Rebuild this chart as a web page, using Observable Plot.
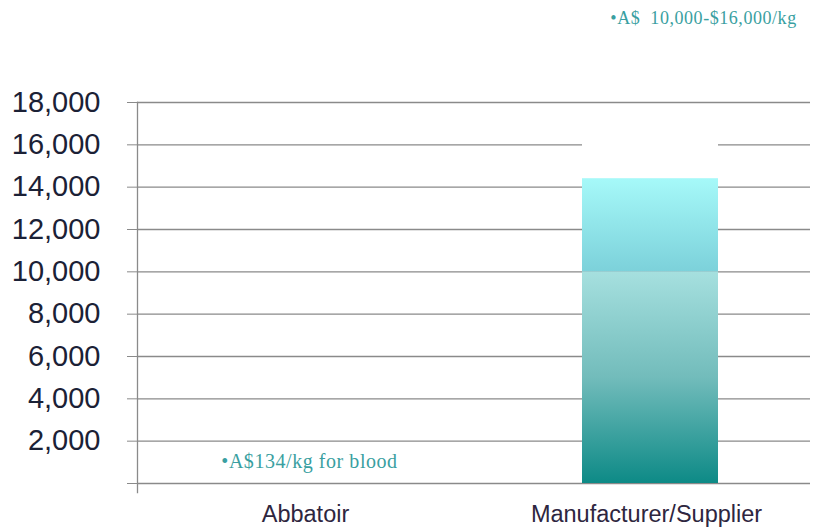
<!DOCTYPE html>
<html>
<head>
<meta charset="utf-8">
<script src="https://cdn.jsdelivr.net/npm/d3@7"></script>
<script src="https://cdn.jsdelivr.net/npm/@observablehq/plot@0.6"></script>
<style>
  body { margin: 0; background: #fff; }
  #chart svg { display: block; }
</style>
</head>
<body>
<div id="chart"></div>
<script>
// Categories and values
const categories = ["Abbatoir", "Manufacturer/Supplier"];
const barValues = [0, 14400];           // A$/kg (bar height as drawn)
const rangeLow = 10000;                 // start of quoted range
const rangeHigh = 16000;                // end of quoted range
const yTicks = [0, 2000, 4000, 6000, 8000, 10000, 12000, 14000, 16000, 18000];
const noteCats = ["Abbatoir", "Manufacturer/Supplier"];
const noteTexts = ["•A$134/kg for blood", "•A$  10,000-$16,000/kg"];
const noteY = [1040, 22000];

const bars = categories.map((c, i) => ({cat: c, v: barValues[i]})).filter(d => d.v > 0);
const lower = bars.map(d => ({cat: d.cat, y1: 0, y2: Math.min(d.v, rangeLow)}));
const upper = bars.map(d => ({cat: d.cat, y1: rangeLow, y2: d.v}));
const blank = bars.map(d => ({cat: d.cat, y1: d.v, y2: rangeHigh}));
const notes = noteCats.map((c, i) => ({cat: c, text: noteTexts[i], y: noteY[i]}));

const fmt = d3.format(",");

const chart = Plot.plot({
  width: 813,
  height: 530,
  marginLeft: 137,
  marginRight: 3,
  marginTop: 102,
  marginBottom: 38,
  style: {background: "#fff", overflow: "visible"},
  x: {domain: categories, range: [139, 821], paddingInner: 0.6, paddingOuter: 0.3, label: null},
  y: {domain: [0, 18000], range: [483, 102], label: null},
  marks: [
    Plot.ruleY(yTicks, {stroke: "#8a8a8a", strokeWidth: 1.3}),
    Plot.rectY(blank, {x: "cat", y1: "y1", y2: "y2", fill: "#fff", insetTop: -3}),
    Plot.rectY(lower, {x: "cat", y1: "y1", y2: "y2", fill: "url(#gradLow)"}),
    Plot.rectY(upper, {x: "cat", y1: "y1", y2: "y2", fill: "url(#gradHigh)"}),
    Plot.frame({anchor: "left", stroke: "#8a8a8a", strokeWidth: 1.3}),
    Plot.axisY(yTicks, {
      anchor: "left", tickSize: 10, tickPadding: 27, label: null,
      tickFormat: d => d === 0 ? "" : fmt(d),
      fontSize: 29, fill: "#1b2136", stroke: "#8a8a8a",
      fontFamily: "Liberation Sans, Arial, sans-serif"
    }),
    Plot.axisX({
      anchor: "bottom", tickSize: 0, tickPadding: 13, label: null, dx: -4,
      fontSize: 23.5, fill: "#2e2640",
      fontFamily: "Liberation Sans, Arial, sans-serif"
    }),
    Plot.text(notes.slice(0, 1), {
      x: "cat", y: "y", text: "text", dx: 0, className: "note-low",
      fontSize: 20, fill: "#3a9fa1",
      fontFamily: "Liberation Serif, Times New Roman, serif"
    }),
    Plot.text(notes.slice(1), {
      x: "cat", y: "y", text: "text", dx: 53, className: "note-high",
      fontSize: 18, fill: "#3a9fa1",
      fontFamily: "Liberation Serif, Times New Roman, serif"
    })
  ]
});

const svg = chart.tagName.toLowerCase() === "svg" ? chart : chart.querySelector("svg");
const defs = d3.select(svg).insert("defs", ":first-child");
const g1 = defs.append("linearGradient").attr("id", "gradLow")
  .attr("x1", 0).attr("y1", 1).attr("x2", 0).attr("y2", 0);
g1.append("stop").attr("offset", "0%").attr("stop-color", "#0d8a86");
g1.append("stop").attr("offset", "50%").attr("stop-color", "#72bcbb");
g1.append("stop").attr("offset", "100%").attr("stop-color", "#a6e0df");
const g2 = defs.append("linearGradient").attr("id", "gradHigh")
  .attr("x1", 0).attr("y1", 1).attr("x2", 0).attr("y2", 0);
g2.append("stop").attr("offset", "0%").attr("stop-color", "#7cd1da");
g2.append("stop").attr("offset", "100%").attr("stop-color", "#a6f9f9");

// letter spacing for the two annotations
d3.select(svg).selectAll(".note-low text").style("letter-spacing", "0.55px");
d3.select(svg).selectAll(".note-high text").style("letter-spacing", "0.55px");

document.getElementById("chart").appendChild(chart);
</script>
</body>
</html>
